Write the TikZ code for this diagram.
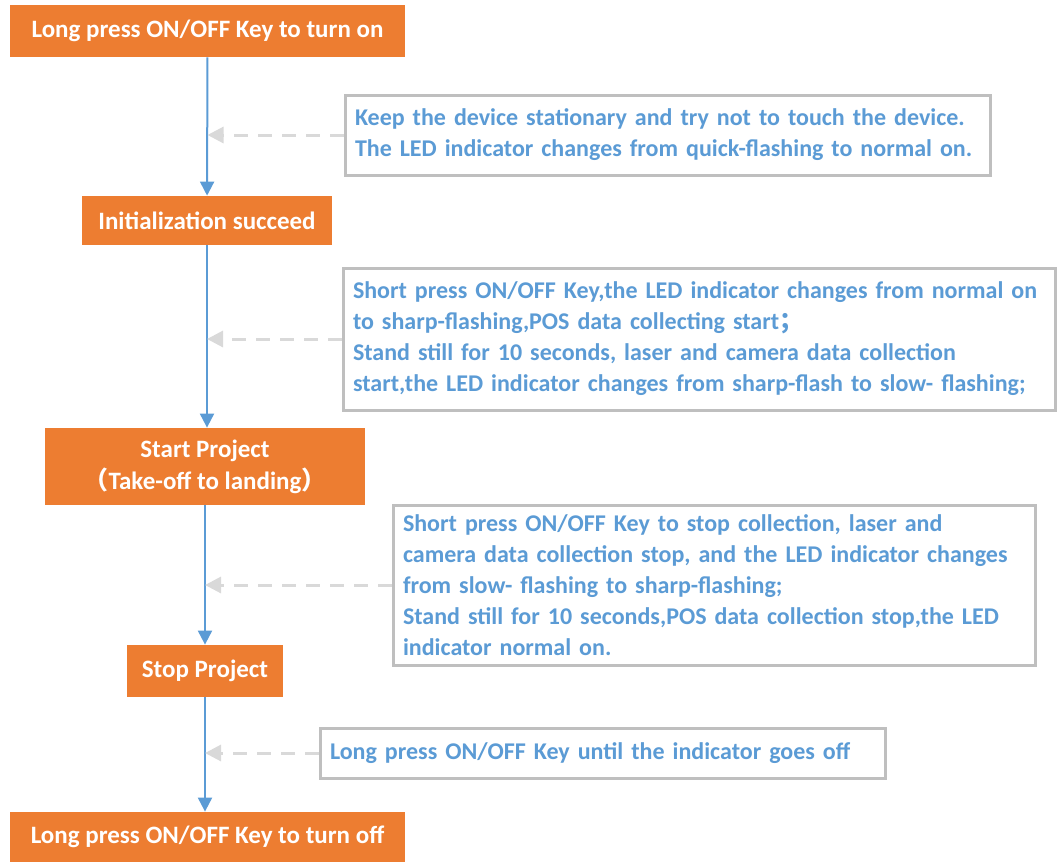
\documentclass[tikz,border=0pt]{standalone}
\usepackage{fontspec}
\setmainfont{Carlito}
\newfontfamily\cjk{Noto Sans CJK SC}
\usepackage{tikz}
\usetikzlibrary{arrows.meta}
\pgfdeclarelayer{background}
\pgfdeclarelayer{foreground}
\pgfsetlayers{background,main,foreground}
\definecolor{boxorange}{HTML}{ED7D31}
\definecolor{lineblue}{HTML}{5B9BD5}
\definecolor{textblue}{HTML}{5B9BD5}
\definecolor{noteborder}{HTML}{BFBFBF}
\definecolor{hintgray}{HTML}{D9D9D9}
\tikzset{
  stepbox/.style={fill=boxorange, text=white, font=\fontsize{12.5}{16}\selectfont\bfseries,
    inner sep=0pt, align=center},
  notebox/.style={draw=noteborder, line width=1.5pt, text=textblue, fill=white,
    font=\fontsize{12}{15.5}\selectfont\bfseries, inner xsep=5pt, inner ysep=0pt, align=left},
  flow/.style={lineblue, line width=1pt, -{Triangle[width=7pt,length=7pt]}},
  hint/.style={hintgray, line width=1.5pt, dash pattern=on 7pt off 5pt,
    -{Triangle[width=8pt,length=8pt]}}
}
\begin{document}
\begin{tikzpicture}[x=0.5pt,y=-0.5pt]
\useasboundingbox (0,0) rectangle (1058,862);
\begin{pgfonlayer}{foreground}
\node[stepbox, minimum width=197.5pt, minimum height=26pt] (on) at (207.5,31) {Long press ON/OFF Key to turn on};
\node[stepbox, minimum width=125pt, minimum height=24.5pt] (init) at (207,220.5) {Initialization succeed};
\node[stepbox, minimum width=160pt, minimum height=38.5pt] (start) at (205,466.5) {Start Project\\{\cjk（}Take-off to landing{\cjk）}};
\node[stepbox, minimum width=78pt, minimum height=26pt] (stop) at (205,671) {Stop Project};
\node[stepbox, minimum width=197.5pt, minimum height=25pt] (off) at (207.5,837) {Long press ON/OFF Key to turn off};
\node[notebox, text width=312.5pt, minimum height=40pt] (keep) at (667.5,135) {Keep the device stationary and try not to touch the device.\\The LED indicator changes from quick-flashing to normal on.};
\node[notebox, text width=346pt, minimum height=71pt] (short) at (699,339) {Short press ON/OFF Key,the LED indicator changes from normal on\\to sharp-flashing,POS data collecting start{\cjk；}\\Stand still for 10 seconds, laser and camera data collection\\start,the LED indicator changes from sharp-flash to slow- flashing;};
\node[notebox, text width=311pt, minimum height=80pt] (halt) at (714,585) {Short press ON/OFF Key to stop collection, laser and\\camera data collection stop, and the LED indicator changes\\from slow- flashing to sharp-flashing;\\Stand still for 10 seconds,POS data collection stop,the LED\\indicator normal on.};
\node[notebox, text width=272.5pt, minimum height=25pt] (power) at (602.5,753) {Long press ON/OFF Key until the indicator goes off};
\end{pgfonlayer}
\begin{pgfonlayer}{background}
\draw[flow] (on) -- (init);
\draw[flow] (init) -- (start.north -| init);
\draw[flow] (start) -- (stop);
\draw[flow] (stop) -- (off.north -| stop);
\draw[hint] (keep.west) -- (keep.west -| on);
\draw[hint] (short.west) -- (short.west -| init);
\draw[hint] (halt.west) -- (halt.west -| start);
\draw[hint] (power.west) -- (power.west -| stop);
\end{pgfonlayer}
\end{tikzpicture}
\end{document}
